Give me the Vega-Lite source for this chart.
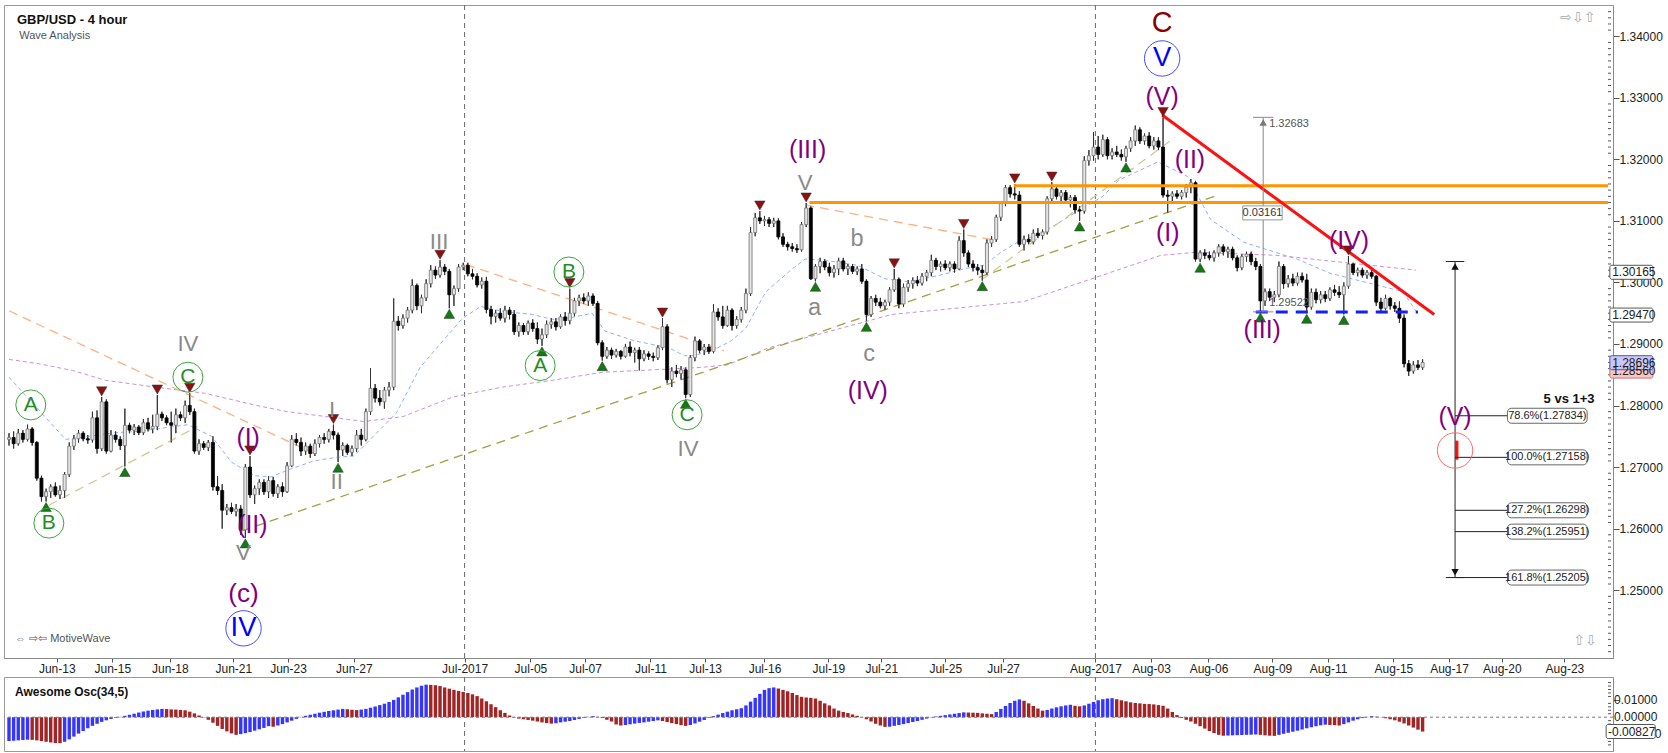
{
  "$schema": "https://vega.github.io/schema/vega-lite/v6.json",
  "background": "white",
  "padding": {"left": 3, "top": 4, "right": 0, "bottom": 0},
  "spacing": 1,
  "config": {
    "view": {"stroke": "#999999"},
    "axis": {"labelFont": "Liberation Sans", "labelFontSize": 12, "labelColor": "#222222", "domainColor": "#888888", "tickColor": "#555555", "grid": false},
    "text": {"font": "Liberation Sans"}
  },
  "datasets": {
    "k": [
      {"i":0,"o":1.2745,"h":1.2755,"l":1.2735,"c":1.2748,"a":-0.0138,"u":1},
      {"i":1,"o":1.2748,"h":1.2758,"l":1.2730,"c":1.2738,"a":-0.0136,"u":1},
      {"i":2,"o":1.2738,"h":1.2762,"l":1.2735,"c":1.2755,"a":-0.0134,"u":1},
      {"i":3,"o":1.2755,"h":1.2760,"l":1.2740,"c":1.2745,"a":-0.0132,"u":1},
      {"i":4,"o":1.2745,"h":1.2769,"l":1.2742,"c":1.2762,"a":-0.0130,"u":1},
      {"i":5,"o":1.2762,"h":1.2765,"l":1.2735,"c":1.2740,"a":-0.0131,"u":0},
      {"i":6,"o":1.2740,"h":1.2742,"l":1.2678,"c":1.2682,"a":-0.0134,"u":0},
      {"i":7,"o":1.2682,"h":1.2686,"l":1.2644,"c":1.2652,"a":-0.0138,"u":0},
      {"i":8,"o":1.2652,"h":1.2665,"l":1.2644,"c":1.2660,"a":-0.0142,"u":0},
      {"i":9,"o":1.2660,"h":1.2672,"l":1.2650,"c":1.2668,"a":-0.0146,"u":0},
      {"i":10,"o":1.2668,"h":1.2675,"l":1.2652,"c":1.2655,"a":-0.0149,"u":0},
      {"i":11,"o":1.2655,"h":1.2670,"l":1.2648,"c":1.2662,"a":-0.0150,"u":0},
      {"i":12,"o":1.2662,"h":1.2692,"l":1.2650,"c":1.2688,"a":-0.0142,"u":1},
      {"i":13,"o":1.2688,"h":1.2740,"l":1.2684,"c":1.2734,"a":-0.0128,"u":1},
      {"i":14,"o":1.2734,"h":1.2752,"l":1.2728,"c":1.2746,"a":-0.0112,"u":1},
      {"i":15,"o":1.2746,"h":1.2760,"l":1.2740,"c":1.2755,"a":-0.0095,"u":1},
      {"i":16,"o":1.2755,"h":1.2758,"l":1.2742,"c":1.2746,"a":-0.0080,"u":1},
      {"i":17,"o":1.2746,"h":1.2752,"l":1.2738,"c":1.2744,"a":-0.0064,"u":1},
      {"i":18,"o":1.2744,"h":1.2790,"l":1.2740,"c":1.2780,"a":-0.0050,"u":1},
      {"i":19,"o":1.2780,"h":1.2792,"l":1.2722,"c":1.2730,"a":-0.0038,"u":1},
      {"i":20,"o":1.2730,"h":1.2814,"l":1.2726,"c":1.2806,"a":-0.0027,"u":1},
      {"i":21,"o":1.2806,"h":1.2810,"l":1.2722,"c":1.2726,"a":-0.0018,"u":1},
      {"i":22,"o":1.2726,"h":1.2760,"l":1.2724,"c":1.2752,"a":-0.0010,"u":1},
      {"i":23,"o":1.2752,"h":1.2758,"l":1.2740,"c":1.2745,"a":-0.0004,"u":1},
      {"i":24,"o":1.2745,"h":1.2750,"l":1.2728,"c":1.2735,"a":0.0002,"u":1},
      {"i":25,"o":1.2735,"h":1.2795,"l":1.2701,"c":1.2768,"a":0.0008,"u":1},
      {"i":26,"o":1.2768,"h":1.2772,"l":1.2755,"c":1.2760,"a":0.0014,"u":1},
      {"i":27,"o":1.2760,"h":1.2770,"l":1.2752,"c":1.2765,"a":0.0020,"u":1},
      {"i":28,"o":1.2765,"h":1.2768,"l":1.2752,"c":1.2756,"a":0.0027,"u":1},
      {"i":29,"o":1.2756,"h":1.2778,"l":1.2752,"c":1.2772,"a":0.0033,"u":1},
      {"i":30,"o":1.2772,"h":1.2780,"l":1.2758,"c":1.2762,"a":0.0038,"u":1},
      {"i":31,"o":1.2762,"h":1.2785,"l":1.2755,"c":1.2766,"a":0.0042,"u":1},
      {"i":32,"o":1.2766,"h":1.2817,"l":1.2760,"c":1.2786,"a":0.0045,"u":1},
      {"i":33,"o":1.2786,"h":1.2790,"l":1.2775,"c":1.2780,"a":0.0048,"u":1},
      {"i":34,"o":1.2780,"h":1.2784,"l":1.2768,"c":1.2772,"a":0.0047,"u":0},
      {"i":35,"o":1.2772,"h":1.2790,"l":1.2740,"c":1.2768,"a":0.0045,"u":0},
      {"i":36,"o":1.2768,"h":1.2795,"l":1.2755,"c":1.2785,"a":0.0044,"u":0},
      {"i":37,"o":1.2785,"h":1.2790,"l":1.2775,"c":1.2780,"a":0.0042,"u":0},
      {"i":38,"o":1.2780,"h":1.2808,"l":1.2772,"c":1.2800,"a":0.0040,"u":0},
      {"i":39,"o":1.2800,"h":1.2820,"l":1.2785,"c":1.2790,"a":0.0032,"u":0},
      {"i":40,"o":1.2790,"h":1.2795,"l":1.2722,"c":1.2726,"a":0.0022,"u":0},
      {"i":41,"o":1.2726,"h":1.2745,"l":1.2720,"c":1.2738,"a":0.0010,"u":0},
      {"i":42,"o":1.2738,"h":1.2742,"l":1.2728,"c":1.2732,"a":-0.0002,"u":0},
      {"i":43,"o":1.2732,"h":1.2744,"l":1.2726,"c":1.2740,"a":-0.0015,"u":0},
      {"i":44,"o":1.2740,"h":1.2750,"l":1.2662,"c":1.2668,"a":-0.0032,"u":0},
      {"i":45,"o":1.2668,"h":1.2685,"l":1.2655,"c":1.2662,"a":-0.0050,"u":0},
      {"i":46,"o":1.2662,"h":1.2672,"l":1.2600,"c":1.2630,"a":-0.0068,"u":0},
      {"i":47,"o":1.2630,"h":1.2640,"l":1.2622,"c":1.2634,"a":-0.0082,"u":0},
      {"i":48,"o":1.2634,"h":1.2642,"l":1.2624,"c":1.2628,"a":-0.0094,"u":0},
      {"i":49,"o":1.2628,"h":1.2640,"l":1.2620,"c":1.2632,"a":-0.0102,"u":0},
      {"i":50,"o":1.2632,"h":1.2638,"l":1.2590,"c":1.2598,"a":-0.0098,"u":1},
      {"i":51,"o":1.2598,"h":1.2705,"l":1.2585,"c":1.2700,"a":-0.0092,"u":1},
      {"i":52,"o":1.2700,"h":1.2718,"l":1.2650,"c":1.2655,"a":-0.0086,"u":1},
      {"i":53,"o":1.2655,"h":1.2670,"l":1.2640,"c":1.2665,"a":-0.0078,"u":1},
      {"i":54,"o":1.2665,"h":1.2680,"l":1.2655,"c":1.2675,"a":-0.0070,"u":1},
      {"i":55,"o":1.2675,"h":1.2680,"l":1.2655,"c":1.2660,"a":-0.0062,"u":1},
      {"i":56,"o":1.2660,"h":1.2685,"l":1.2650,"c":1.2678,"a":-0.0052,"u":1},
      {"i":57,"o":1.2678,"h":1.2684,"l":1.2652,"c":1.2657,"a":-0.0055,"u":0},
      {"i":58,"o":1.2657,"h":1.2672,"l":1.2650,"c":1.2668,"a":-0.0048,"u":1},
      {"i":59,"o":1.2668,"h":1.2675,"l":1.2652,"c":1.2660,"a":-0.0040,"u":1},
      {"i":60,"o":1.2660,"h":1.2708,"l":1.2658,"c":1.2702,"a":-0.0030,"u":1},
      {"i":61,"o":1.2702,"h":1.2752,"l":1.2700,"c":1.2745,"a":-0.0020,"u":1},
      {"i":62,"o":1.2745,"h":1.2755,"l":1.2735,"c":1.2740,"a":-0.0010,"u":1},
      {"i":63,"o":1.2740,"h":1.2748,"l":1.2718,"c":1.2726,"a":0.0002,"u":1},
      {"i":64,"o":1.2726,"h":1.2740,"l":1.2720,"c":1.2734,"a":0.0008,"u":1},
      {"i":65,"o":1.2734,"h":1.2738,"l":1.2715,"c":1.2722,"a":0.0014,"u":1},
      {"i":66,"o":1.2722,"h":1.2745,"l":1.2718,"c":1.2738,"a":0.0020,"u":1},
      {"i":67,"o":1.2738,"h":1.2752,"l":1.2732,"c":1.2748,"a":0.0026,"u":1},
      {"i":68,"o":1.2748,"h":1.2755,"l":1.2738,"c":1.2745,"a":0.0031,"u":1},
      {"i":69,"o":1.2745,"h":1.2762,"l":1.2740,"c":1.2758,"a":0.0036,"u":1},
      {"i":70,"o":1.2758,"h":1.2769,"l":1.2745,"c":1.2752,"a":0.0040,"u":1},
      {"i":71,"o":1.2752,"h":1.2756,"l":1.2708,"c":1.2728,"a":0.0044,"u":1},
      {"i":72,"o":1.2728,"h":1.2740,"l":1.2718,"c":1.2735,"a":0.0048,"u":1},
      {"i":73,"o":1.2735,"h":1.2738,"l":1.2720,"c":1.2724,"a":0.0046,"u":0},
      {"i":74,"o":1.2724,"h":1.2735,"l":1.2718,"c":1.2730,"a":0.0043,"u":0},
      {"i":75,"o":1.2730,"h":1.2760,"l":1.2725,"c":1.2752,"a":0.0041,"u":0},
      {"i":76,"o":1.2752,"h":1.2762,"l":1.2735,"c":1.2745,"a":0.0044,"u":1},
      {"i":77,"o":1.2745,"h":1.2795,"l":1.2742,"c":1.2790,"a":0.0048,"u":1},
      {"i":78,"o":1.2790,"h":1.2861,"l":1.2785,"c":1.2828,"a":0.0055,"u":1},
      {"i":79,"o":1.2828,"h":1.2835,"l":1.2805,"c":1.2812,"a":0.0062,"u":1},
      {"i":80,"o":1.2812,"h":1.2825,"l":1.2800,"c":1.2806,"a":0.0070,"u":1},
      {"i":81,"o":1.2806,"h":1.2830,"l":1.2795,"c":1.2825,"a":0.0078,"u":1},
      {"i":82,"o":1.2825,"h":1.2838,"l":1.2815,"c":1.2830,"a":0.0088,"u":1},
      {"i":83,"o":1.2830,"h":1.2974,"l":1.2825,"c":1.2937,"a":0.0100,"u":1},
      {"i":84,"o":1.2937,"h":1.2945,"l":1.2922,"c":1.2930,"a":0.0115,"u":1},
      {"i":85,"o":1.2930,"h":1.2948,"l":1.2925,"c":1.2942,"a":0.0130,"u":1},
      {"i":86,"o":1.2942,"h":1.2960,"l":1.2935,"c":1.2955,"a":0.0145,"u":1},
      {"i":87,"o":1.2955,"h":1.3005,"l":1.2950,"c":1.2995,"a":0.0160,"u":1},
      {"i":88,"o":1.2995,"h":1.2998,"l":1.2955,"c":1.2962,"a":0.0172,"u":1},
      {"i":89,"o":1.2962,"h":1.2980,"l":1.2950,"c":1.2975,"a":0.0182,"u":1},
      {"i":90,"o":1.2975,"h":1.3005,"l":1.2970,"c":1.2998,"a":0.0188,"u":1},
      {"i":91,"o":1.2998,"h":1.3028,"l":1.2992,"c":1.3020,"a":0.0187,"u":0},
      {"i":92,"o":1.3020,"h":1.3026,"l":1.3006,"c":1.3012,"a":0.0185,"u":0},
      {"i":93,"o":1.3012,"h":1.3036,"l":1.3008,"c":1.3025,"a":0.0180,"u":0},
      {"i":94,"o":1.3025,"h":1.3030,"l":1.3012,"c":1.3018,"a":0.0172,"u":0},
      {"i":95,"o":1.3018,"h":1.3022,"l":1.2958,"c":1.2980,"a":0.0165,"u":0},
      {"i":96,"o":1.2980,"h":1.2995,"l":1.2962,"c":1.2990,"a":0.0158,"u":0},
      {"i":97,"o":1.2990,"h":1.3030,"l":1.2985,"c":1.3025,"a":0.0152,"u":0},
      {"i":98,"o":1.3025,"h":1.3032,"l":1.3020,"c":1.3028,"a":0.0146,"u":0},
      {"i":99,"o":1.3028,"h":1.3032,"l":1.3010,"c":1.3014,"a":0.0140,"u":0},
      {"i":100,"o":1.3014,"h":1.3022,"l":1.3005,"c":1.3010,"a":0.0132,"u":0},
      {"i":101,"o":1.3010,"h":1.3015,"l":1.2992,"c":1.2996,"a":0.0122,"u":0},
      {"i":102,"o":1.2996,"h":1.3008,"l":1.2990,"c":1.3002,"a":0.0108,"u":0},
      {"i":103,"o":1.3002,"h":1.3009,"l":1.2950,"c":1.2956,"a":0.0092,"u":0},
      {"i":104,"o":1.2956,"h":1.2962,"l":1.2932,"c":1.2945,"a":0.0075,"u":0},
      {"i":105,"o":1.2945,"h":1.2955,"l":1.2935,"c":1.2950,"a":0.0058,"u":0},
      {"i":106,"o":1.2950,"h":1.2958,"l":1.2938,"c":1.2942,"a":0.0040,"u":0},
      {"i":107,"o":1.2942,"h":1.2962,"l":1.2935,"c":1.2955,"a":0.0025,"u":0},
      {"i":108,"o":1.2955,"h":1.2960,"l":1.2940,"c":1.2948,"a":0.0010,"u":0},
      {"i":109,"o":1.2948,"h":1.2955,"l":1.2915,"c":1.2920,"a":-0.0002,"u":0},
      {"i":110,"o":1.2920,"h":1.2935,"l":1.2912,"c":1.2930,"a":-0.0008,"u":0},
      {"i":111,"o":1.2930,"h":1.2934,"l":1.2915,"c":1.2920,"a":-0.0012,"u":0},
      {"i":112,"o":1.2920,"h":1.2938,"l":1.2915,"c":1.2934,"a":-0.0016,"u":0},
      {"i":113,"o":1.2934,"h":1.2940,"l":1.2920,"c":1.2925,"a":-0.0020,"u":0},
      {"i":114,"o":1.2925,"h":1.2935,"l":1.2900,"c":1.2908,"a":-0.0025,"u":0},
      {"i":115,"o":1.2908,"h":1.2925,"l":1.2897,"c":1.2915,"a":-0.0030,"u":0},
      {"i":116,"o":1.2915,"h":1.2938,"l":1.2910,"c":1.2932,"a":-0.0034,"u":0},
      {"i":117,"o":1.2932,"h":1.2942,"l":1.2925,"c":1.2936,"a":-0.0037,"u":0},
      {"i":118,"o":1.2936,"h":1.2942,"l":1.2922,"c":1.2928,"a":-0.0035,"u":1},
      {"i":119,"o":1.2928,"h":1.2948,"l":1.2925,"c":1.2944,"a":-0.0030,"u":1},
      {"i":120,"o":1.2944,"h":1.2952,"l":1.2930,"c":1.2938,"a":-0.0026,"u":1},
      {"i":121,"o":1.2938,"h":1.2990,"l":1.2932,"c":1.2950,"a":-0.0022,"u":1},
      {"i":122,"o":1.2950,"h":1.2975,"l":1.2945,"c":1.2970,"a":-0.0016,"u":1},
      {"i":123,"o":1.2970,"h":1.2980,"l":1.2962,"c":1.2975,"a":-0.0010,"u":1},
      {"i":124,"o":1.2975,"h":1.2982,"l":1.2965,"c":1.2970,"a":-0.0004,"u":1},
      {"i":125,"o":1.2970,"h":1.2984,"l":1.2962,"c":1.2978,"a":0.0002,"u":1},
      {"i":126,"o":1.2978,"h":1.2982,"l":1.2962,"c":1.2966,"a":0.0006,"u":1},
      {"i":127,"o":1.2966,"h":1.2970,"l":1.2898,"c":1.2902,"a":0.0002,"u":0},
      {"i":128,"o":1.2902,"h":1.2906,"l":1.2873,"c":1.2880,"a":-0.0005,"u":0},
      {"i":129,"o":1.2880,"h":1.2895,"l":1.2876,"c":1.2890,"a":-0.0015,"u":0},
      {"i":130,"o":1.2890,"h":1.2894,"l":1.2876,"c":1.2882,"a":-0.0025,"u":0},
      {"i":131,"o":1.2882,"h":1.2892,"l":1.2878,"c":1.2888,"a":-0.0042,"u":0},
      {"i":132,"o":1.2888,"h":1.2890,"l":1.2875,"c":1.2880,"a":-0.0048,"u":0},
      {"i":133,"o":1.2880,"h":1.2900,"l":1.2878,"c":1.2895,"a":-0.0045,"u":1},
      {"i":134,"o":1.2895,"h":1.2904,"l":1.2880,"c":1.2886,"a":-0.0041,"u":1},
      {"i":135,"o":1.2886,"h":1.2894,"l":1.2870,"c":1.2890,"a":-0.0037,"u":1},
      {"i":136,"o":1.2890,"h":1.2895,"l":1.2857,"c":1.2876,"a":-0.0033,"u":1},
      {"i":137,"o":1.2876,"h":1.2890,"l":1.2872,"c":1.2884,"a":-0.0030,"u":1},
      {"i":138,"o":1.2884,"h":1.2888,"l":1.2874,"c":1.2880,"a":-0.0026,"u":1},
      {"i":139,"o":1.2880,"h":1.2886,"l":1.2872,"c":1.2878,"a":-0.0022,"u":1},
      {"i":140,"o":1.2878,"h":1.2898,"l":1.2874,"c":1.2894,"a":-0.0018,"u":1},
      {"i":141,"o":1.2894,"h":1.2942,"l":1.2890,"c":1.2928,"a":-0.0022,"u":0},
      {"i":142,"o":1.2928,"h":1.2932,"l":1.2836,"c":1.2842,"a":-0.0028,"u":0},
      {"i":143,"o":1.2842,"h":1.2862,"l":1.2830,"c":1.2856,"a":-0.0034,"u":0},
      {"i":144,"o":1.2856,"h":1.2866,"l":1.2846,"c":1.2852,"a":-0.0040,"u":0},
      {"i":145,"o":1.2852,"h":1.2864,"l":1.2842,"c":1.2858,"a":-0.0046,"u":0},
      {"i":146,"o":1.2858,"h":1.2862,"l":1.2812,"c":1.2818,"a":-0.0050,"u":0},
      {"i":147,"o":1.2818,"h":1.2882,"l":1.2814,"c":1.2878,"a":-0.0045,"u":1},
      {"i":148,"o":1.2878,"h":1.2912,"l":1.2872,"c":1.2905,"a":-0.0036,"u":1},
      {"i":149,"o":1.2905,"h":1.2908,"l":1.2885,"c":1.2890,"a":-0.0026,"u":1},
      {"i":150,"o":1.2890,"h":1.2900,"l":1.2882,"c":1.2895,"a":-0.0016,"u":1},
      {"i":151,"o":1.2895,"h":1.2900,"l":1.2884,"c":1.2888,"a":-0.0004,"u":1},
      {"i":152,"o":1.2888,"h":1.2965,"l":1.2885,"c":1.2952,"a":0.0006,"u":1},
      {"i":153,"o":1.2952,"h":1.2958,"l":1.2938,"c":1.2944,"a":0.0015,"u":1},
      {"i":154,"o":1.2944,"h":1.2962,"l":1.2925,"c":1.2930,"a":0.0024,"u":1},
      {"i":155,"o":1.2930,"h":1.2962,"l":1.2928,"c":1.2955,"a":0.0032,"u":1},
      {"i":156,"o":1.2955,"h":1.2958,"l":1.2922,"c":1.2930,"a":0.0040,"u":1},
      {"i":157,"o":1.2930,"h":1.2945,"l":1.2925,"c":1.2940,"a":0.0046,"u":1},
      {"i":158,"o":1.2940,"h":1.2960,"l":1.2935,"c":1.2955,"a":0.0052,"u":1},
      {"i":159,"o":1.2955,"h":1.2990,"l":1.2950,"c":1.2982,"a":0.0068,"u":1},
      {"i":160,"o":1.2982,"h":1.3090,"l":1.2978,"c":1.3081,"a":0.0090,"u":1},
      {"i":161,"o":1.3081,"h":1.3113,"l":1.3075,"c":1.3105,"a":0.0112,"u":1},
      {"i":162,"o":1.3105,"h":1.3116,"l":1.3095,"c":1.3100,"a":0.0135,"u":1},
      {"i":163,"o":1.3100,"h":1.3108,"l":1.3092,"c":1.3102,"a":0.0158,"u":1},
      {"i":164,"o":1.3102,"h":1.3106,"l":1.3090,"c":1.3096,"a":0.0168,"u":1},
      {"i":165,"o":1.3096,"h":1.3105,"l":1.3090,"c":1.3100,"a":0.0172,"u":1},
      {"i":166,"o":1.3100,"h":1.3104,"l":1.3070,"c":1.3074,"a":0.0166,"u":0},
      {"i":167,"o":1.3074,"h":1.3080,"l":1.3058,"c":1.3062,"a":0.0158,"u":0},
      {"i":168,"o":1.3062,"h":1.3066,"l":1.3052,"c":1.3058,"a":0.0150,"u":0},
      {"i":169,"o":1.3058,"h":1.3064,"l":1.3050,"c":1.3055,"a":0.0140,"u":0},
      {"i":170,"o":1.3055,"h":1.3062,"l":1.3048,"c":1.3053,"a":0.0128,"u":0},
      {"i":171,"o":1.3053,"h":1.3098,"l":1.3050,"c":1.3094,"a":0.0118,"u":0},
      {"i":172,"o":1.3094,"h":1.3129,"l":1.3090,"c":1.3121,"a":0.0114,"u":0},
      {"i":173,"o":1.3121,"h":1.3124,"l":1.3004,"c":1.3006,"a":0.0112,"u":0},
      {"i":174,"o":1.3006,"h":1.3030,"l":1.3002,"c":1.3026,"a":0.0108,"u":0},
      {"i":175,"o":1.3026,"h":1.3040,"l":1.3015,"c":1.3034,"a":0.0095,"u":0},
      {"i":176,"o":1.3034,"h":1.3038,"l":1.3020,"c":1.3025,"a":0.0080,"u":0},
      {"i":177,"o":1.3025,"h":1.3032,"l":1.3010,"c":1.3016,"a":0.0068,"u":0},
      {"i":178,"o":1.3016,"h":1.3028,"l":1.3008,"c":1.3022,"a":0.0050,"u":0},
      {"i":179,"o":1.3022,"h":1.3040,"l":1.3012,"c":1.3035,"a":0.0038,"u":0},
      {"i":180,"o":1.3035,"h":1.3040,"l":1.3018,"c":1.3022,"a":0.0030,"u":0},
      {"i":181,"o":1.3022,"h":1.3030,"l":1.3012,"c":1.3026,"a":0.0024,"u":0},
      {"i":182,"o":1.3026,"h":1.3030,"l":1.3014,"c":1.3018,"a":0.0016,"u":0},
      {"i":183,"o":1.3018,"h":1.3026,"l":1.3012,"c":1.3022,"a":0.0008,"u":0},
      {"i":184,"o":1.3022,"h":1.3030,"l":1.2998,"c":1.3002,"a":-0.0002,"u":0},
      {"i":185,"o":1.3002,"h":1.3005,"l":1.2937,"c":1.2948,"a":-0.0012,"u":0},
      {"i":186,"o":1.2948,"h":1.2978,"l":1.2944,"c":1.2974,"a":-0.0025,"u":0},
      {"i":187,"o":1.2974,"h":1.2980,"l":1.2962,"c":1.2968,"a":-0.0038,"u":0},
      {"i":188,"o":1.2968,"h":1.2975,"l":1.2958,"c":1.2962,"a":-0.0048,"u":0},
      {"i":189,"o":1.2962,"h":1.2972,"l":1.2955,"c":1.2968,"a":-0.0056,"u":0},
      {"i":190,"o":1.2968,"h":1.2992,"l":1.2962,"c":1.2988,"a":-0.0055,"u":1},
      {"i":191,"o":1.2988,"h":1.3022,"l":1.2985,"c":1.3005,"a":-0.0050,"u":1},
      {"i":192,"o":1.3005,"h":1.3008,"l":1.2958,"c":1.2965,"a":-0.0045,"u":1},
      {"i":193,"o":1.2965,"h":1.2998,"l":1.2960,"c":1.2992,"a":-0.0040,"u":1},
      {"i":194,"o":1.2992,"h":1.3004,"l":1.2985,"c":1.2998,"a":-0.0034,"u":1},
      {"i":195,"o":1.2998,"h":1.3008,"l":1.2990,"c":1.3003,"a":-0.0028,"u":1},
      {"i":196,"o":1.3003,"h":1.3010,"l":1.2994,"c":1.2999,"a":-0.0022,"u":1},
      {"i":197,"o":1.2999,"h":1.3015,"l":1.2995,"c":1.3010,"a":-0.0015,"u":1},
      {"i":198,"o":1.3010,"h":1.3020,"l":1.3002,"c":1.3016,"a":-0.0008,"u":1},
      {"i":199,"o":1.3016,"h":1.3045,"l":1.3010,"c":1.3036,"a":-0.0002,"u":1},
      {"i":200,"o":1.3036,"h":1.3040,"l":1.3020,"c":1.3026,"a":0.0004,"u":1},
      {"i":201,"o":1.3026,"h":1.3034,"l":1.3018,"c":1.3030,"a":0.0008,"u":1},
      {"i":202,"o":1.3030,"h":1.3036,"l":1.3020,"c":1.3024,"a":0.0012,"u":1},
      {"i":203,"o":1.3024,"h":1.3034,"l":1.3018,"c":1.3030,"a":0.0016,"u":1},
      {"i":204,"o":1.3030,"h":1.3034,"l":1.3016,"c":1.3022,"a":0.0020,"u":1},
      {"i":205,"o":1.3022,"h":1.3075,"l":1.3020,"c":1.3068,"a":0.0024,"u":1},
      {"i":206,"o":1.3068,"h":1.3086,"l":1.3042,"c":1.3048,"a":0.0028,"u":1},
      {"i":207,"o":1.3048,"h":1.3052,"l":1.3025,"c":1.3030,"a":0.0027,"u":0},
      {"i":208,"o":1.3030,"h":1.3036,"l":1.3018,"c":1.3024,"a":0.0026,"u":0},
      {"i":209,"o":1.3024,"h":1.3030,"l":1.3012,"c":1.3020,"a":0.0025,"u":0},
      {"i":210,"o":1.3020,"h":1.3028,"l":1.3003,"c":1.3016,"a":0.0022,"u":0},
      {"i":211,"o":1.3016,"h":1.3070,"l":1.3012,"c":1.3064,"a":0.0020,"u":0},
      {"i":212,"o":1.3064,"h":1.3075,"l":1.3058,"c":1.3070,"a":0.0018,"u":0},
      {"i":213,"o":1.3070,"h":1.3110,"l":1.3066,"c":1.3106,"a":0.0030,"u":1},
      {"i":214,"o":1.3106,"h":1.3132,"l":1.3100,"c":1.3128,"a":0.0048,"u":1},
      {"i":215,"o":1.3128,"h":1.3158,"l":1.3124,"c":1.3154,"a":0.0065,"u":1},
      {"i":216,"o":1.3154,"h":1.3158,"l":1.3138,"c":1.3144,"a":0.0082,"u":1},
      {"i":217,"o":1.3144,"h":1.3160,"l":1.3135,"c":1.3142,"a":0.0095,"u":1},
      {"i":218,"o":1.3142,"h":1.3148,"l":1.3058,"c":1.3062,"a":0.0103,"u":1},
      {"i":219,"o":1.3062,"h":1.3076,"l":1.3052,"c":1.3070,"a":0.0095,"u":0},
      {"i":220,"o":1.3070,"h":1.3078,"l":1.3062,"c":1.3066,"a":0.0080,"u":0},
      {"i":221,"o":1.3066,"h":1.3086,"l":1.3062,"c":1.3080,"a":0.0065,"u":0},
      {"i":222,"o":1.3080,"h":1.3088,"l":1.3072,"c":1.3076,"a":0.0050,"u":0},
      {"i":223,"o":1.3076,"h":1.3086,"l":1.3070,"c":1.3082,"a":0.0038,"u":0},
      {"i":224,"o":1.3082,"h":1.3140,"l":1.3078,"c":1.3136,"a":0.0042,"u":1},
      {"i":225,"o":1.3136,"h":1.3163,"l":1.3130,"c":1.3152,"a":0.0050,"u":1},
      {"i":226,"o":1.3152,"h":1.3156,"l":1.3135,"c":1.3140,"a":0.0057,"u":1},
      {"i":227,"o":1.3140,"h":1.3150,"l":1.3132,"c":1.3146,"a":0.0063,"u":1},
      {"i":228,"o":1.3146,"h":1.3150,"l":1.3128,"c":1.3134,"a":0.0068,"u":1},
      {"i":229,"o":1.3134,"h":1.3142,"l":1.3122,"c":1.3138,"a":0.0072,"u":1},
      {"i":230,"o":1.3138,"h":1.3142,"l":1.3112,"c":1.3118,"a":0.0066,"u":0},
      {"i":231,"o":1.3118,"h":1.3124,"l":1.3100,"c":1.3116,"a":0.0063,"u":0},
      {"i":232,"o":1.3116,"h":1.3205,"l":1.3112,"c":1.3198,"a":0.0068,"u":1},
      {"i":233,"o":1.3198,"h":1.3215,"l":1.3190,"c":1.3206,"a":0.0078,"u":1},
      {"i":234,"o":1.3206,"h":1.3244,"l":1.3198,"c":1.3220,"a":0.0088,"u":1},
      {"i":235,"o":1.3220,"h":1.3238,"l":1.3200,"c":1.3208,"a":0.0098,"u":1},
      {"i":236,"o":1.3208,"h":1.3240,"l":1.3204,"c":1.3232,"a":0.0104,"u":1},
      {"i":237,"o":1.3232,"h":1.3236,"l":1.3200,"c":1.3206,"a":0.0108,"u":1},
      {"i":238,"o":1.3206,"h":1.3218,"l":1.3200,"c":1.3212,"a":0.0110,"u":1},
      {"i":239,"o":1.3212,"h":1.3222,"l":1.3204,"c":1.3208,"a":0.0104,"u":0},
      {"i":240,"o":1.3208,"h":1.3216,"l":1.3198,"c":1.3204,"a":0.0098,"u":0},
      {"i":241,"o":1.3204,"h":1.3222,"l":1.3196,"c":1.3218,"a":0.0092,"u":0},
      {"i":242,"o":1.3218,"h":1.3236,"l":1.3212,"c":1.3230,"a":0.0086,"u":0},
      {"i":243,"o":1.3230,"h":1.3255,"l":1.3222,"c":1.3248,"a":0.0082,"u":0},
      {"i":244,"o":1.3248,"h":1.3252,"l":1.3225,"c":1.3230,"a":0.0080,"u":0},
      {"i":245,"o":1.3230,"h":1.3242,"l":1.3224,"c":1.3238,"a":0.0077,"u":0},
      {"i":246,"o":1.3238,"h":1.3244,"l":1.3218,"c":1.3222,"a":0.0076,"u":0},
      {"i":247,"o":1.3222,"h":1.3236,"l":1.3216,"c":1.3230,"a":0.0074,"u":0},
      {"i":248,"o":1.3230,"h":1.3236,"l":1.3215,"c":1.3220,"a":0.0070,"u":0},
      {"i":249,"o":1.3220,"h":1.3268,"l":1.3138,"c":1.3142,"a":0.0066,"u":0},
      {"i":250,"o":1.3142,"h":1.3150,"l":1.3113,"c":1.3140,"a":0.0050,"u":0},
      {"i":251,"o":1.3140,"h":1.3148,"l":1.3132,"c":1.3144,"a":0.0030,"u":0},
      {"i":252,"o":1.3144,"h":1.3150,"l":1.3136,"c":1.3140,"a":0.0012,"u":0},
      {"i":253,"o":1.3140,"h":1.3150,"l":1.3135,"c":1.3146,"a":-0.0005,"u":0},
      {"i":254,"o":1.3146,"h":1.3160,"l":1.3138,"c":1.3155,"a":-0.0015,"u":0},
      {"i":255,"o":1.3155,"h":1.3168,"l":1.3145,"c":1.3162,"a":-0.0025,"u":0},
      {"i":256,"o":1.3162,"h":1.3165,"l":1.3034,"c":1.3038,"a":-0.0038,"u":0},
      {"i":257,"o":1.3038,"h":1.3052,"l":1.3033,"c":1.3048,"a":-0.0052,"u":0},
      {"i":258,"o":1.3048,"h":1.3054,"l":1.3038,"c":1.3044,"a":-0.0066,"u":0},
      {"i":259,"o":1.3044,"h":1.3050,"l":1.3036,"c":1.3040,"a":-0.0080,"u":0},
      {"i":260,"o":1.3040,"h":1.3052,"l":1.3034,"c":1.3048,"a":-0.0092,"u":0},
      {"i":261,"o":1.3048,"h":1.3062,"l":1.3042,"c":1.3058,"a":-0.0102,"u":0},
      {"i":262,"o":1.3058,"h":1.3062,"l":1.3044,"c":1.3050,"a":-0.0107,"u":0},
      {"i":263,"o":1.3050,"h":1.3058,"l":1.3040,"c":1.3054,"a":-0.0106,"u":1},
      {"i":264,"o":1.3054,"h":1.3058,"l":1.3036,"c":1.3040,"a":-0.0105,"u":1},
      {"i":265,"o":1.3040,"h":1.3044,"l":1.3018,"c":1.3024,"a":-0.0104,"u":1},
      {"i":266,"o":1.3024,"h":1.3046,"l":1.3020,"c":1.3042,"a":-0.0103,"u":1},
      {"i":267,"o":1.3042,"h":1.3050,"l":1.3034,"c":1.3046,"a":-0.0102,"u":1},
      {"i":268,"o":1.3046,"h":1.3050,"l":1.3028,"c":1.3034,"a":-0.0101,"u":1},
      {"i":269,"o":1.3034,"h":1.3040,"l":1.3020,"c":1.3026,"a":-0.0100,"u":1},
      {"i":270,"o":1.3026,"h":1.3030,"l":1.2952,"c":1.2970,"a":-0.0102,"u":0},
      {"i":271,"o":1.2970,"h":1.2990,"l":1.2962,"c":1.2985,"a":-0.0105,"u":0},
      {"i":272,"o":1.2985,"h":1.2990,"l":1.2970,"c":1.2976,"a":-0.0107,"u":0},
      {"i":273,"o":1.2976,"h":1.2986,"l":1.2968,"c":1.2980,"a":-0.0108,"u":0},
      {"i":274,"o":1.2980,"h":1.3034,"l":1.2976,"c":1.3026,"a":-0.0102,"u":1},
      {"i":275,"o":1.3026,"h":1.3030,"l":1.2990,"c":1.2998,"a":-0.0096,"u":1},
      {"i":276,"o":1.2998,"h":1.3012,"l":1.2992,"c":1.3006,"a":-0.0090,"u":1},
      {"i":277,"o":1.3006,"h":1.3014,"l":1.2994,"c":1.2999,"a":-0.0084,"u":1},
      {"i":278,"o":1.2999,"h":1.3016,"l":1.2995,"c":1.3010,"a":-0.0078,"u":1},
      {"i":279,"o":1.3010,"h":1.3016,"l":1.3000,"c":1.3004,"a":-0.0071,"u":1},
      {"i":280,"o":1.3004,"h":1.3014,"l":1.2950,"c":1.2960,"a":-0.0064,"u":1},
      {"i":281,"o":1.2960,"h":1.2990,"l":1.2956,"c":1.2984,"a":-0.0058,"u":1},
      {"i":282,"o":1.2984,"h":1.2990,"l":1.2966,"c":1.2972,"a":-0.0052,"u":1},
      {"i":283,"o":1.2972,"h":1.2986,"l":1.2966,"c":1.2980,"a":-0.0047,"u":1},
      {"i":284,"o":1.2980,"h":1.2986,"l":1.2968,"c":1.2974,"a":-0.0043,"u":1},
      {"i":285,"o":1.2974,"h":1.2992,"l":1.2970,"c":1.2988,"a":-0.0045,"u":0},
      {"i":286,"o":1.2988,"h":1.2996,"l":1.2978,"c":1.2984,"a":-0.0046,"u":0},
      {"i":287,"o":1.2984,"h":1.2994,"l":1.2975,"c":1.2980,"a":-0.0048,"u":0},
      {"i":288,"o":1.2980,"h":1.3000,"l":1.2948,"c":1.2994,"a":-0.0040,"u":1},
      {"i":289,"o":1.2994,"h":1.3043,"l":1.2990,"c":1.3030,"a":-0.0030,"u":1},
      {"i":290,"o":1.3030,"h":1.3032,"l":1.3012,"c":1.3016,"a":-0.0020,"u":1},
      {"i":291,"o":1.3016,"h":1.3024,"l":1.3010,"c":1.3020,"a":-0.0012,"u":1},
      {"i":292,"o":1.3020,"h":1.3024,"l":1.3008,"c":1.3012,"a":-0.0005,"u":1},
      {"i":293,"o":1.3012,"h":1.3020,"l":1.3006,"c":1.3016,"a":0.0002,"u":1},
      {"i":294,"o":1.3016,"h":1.3024,"l":1.3006,"c":1.3010,"a":0.0006,"u":1},
      {"i":295,"o":1.3010,"h":1.3012,"l":1.2962,"c":1.2968,"a":0.0003,"u":0},
      {"i":296,"o":1.2968,"h":1.2975,"l":1.2950,"c":1.2958,"a":-0.0001,"u":0},
      {"i":297,"o":1.2958,"h":1.2980,"l":1.2955,"c":1.2974,"a":-0.0006,"u":0},
      {"i":298,"o":1.2974,"h":1.2976,"l":1.2956,"c":1.2962,"a":-0.0012,"u":0},
      {"i":299,"o":1.2962,"h":1.2968,"l":1.2952,"c":1.2958,"a":-0.0018,"u":0},
      {"i":300,"o":1.2958,"h":1.2969,"l":1.2934,"c":1.2942,"a":-0.0026,"u":0},
      {"i":301,"o":1.2942,"h":1.2948,"l":1.2862,"c":1.2868,"a":-0.0036,"u":0},
      {"i":302,"o":1.2868,"h":1.2874,"l":1.2848,"c":1.2856,"a":-0.0048,"u":0},
      {"i":303,"o":1.2856,"h":1.2872,"l":1.2852,"c":1.2866,"a":-0.0060,"u":0},
      {"i":304,"o":1.2866,"h":1.2874,"l":1.2858,"c":1.2862,"a":-0.0072,"u":0},
      {"i":305,"o":1.2862,"h":1.2875,"l":1.2858,"c":1.2870,"a":-0.0083,"u":0}
    ],
    "ln": [
      {"g":"ma1","i":0,"p":1.2846},{"g":"ma1","i":6.4,"p":1.2793},{"g":"ma1","i":12.2,"p":1.2745},{"g":"ma1","i":17.2,"p":1.2750},
      {"g":"ma1","i":23,"p":1.2756},{"g":"ma1","i":28,"p":1.2758},{"g":"ma1","i":38.6,"p":1.2769},{"g":"ma1","i":43.7,"p":1.2750},
      {"g":"ma1","i":48,"p":1.2708},{"g":"ma1","i":53,"p":1.2686},{"g":"ma1","i":56.5,"p":1.2684},{"g":"ma1","i":60.8,"p":1.2697},
      {"g":"ma1","i":65.8,"p":1.2710},{"g":"ma1","i":70.7,"p":1.2716},{"g":"ma1","i":74.4,"p":1.2718},{"g":"ma1","i":83.6,"p":1.2788},
      {"g":"ma1","i":88.7,"p":1.2862},{"g":"ma1","i":93.6,"p":1.2905},{"g":"ma1","i":97.9,"p":1.2942},{"g":"ma1","i":101.8,"p":1.2961},
      {"g":"ma1","i":106.5,"p":1.2953},{"g":"ma1","i":112.9,"p":1.2948},{"g":"ma1","i":117.2,"p":1.2940},{"g":"ma1","i":120.8,"p":1.2942},
      {"g":"ma1","i":125.8,"p":1.2950},{"g":"ma1","i":128.6,"p":1.2921},{"g":"ma1","i":135,"p":1.2905},{"g":"ma1","i":142.3,"p":1.2894},
      {"g":"ma1","i":145.7,"p":1.2881},{"g":"ma1","i":147.9,"p":1.2881},{"g":"ma1","i":153,"p":1.2894},{"g":"ma1","i":155.8,"p":1.2905},
      {"g":"ma1","i":159,"p":1.2926},{"g":"ma1","i":163.3,"p":1.2985},{"g":"ma1","i":169,"p":1.3022},{"g":"ma1","i":171.8,"p":1.3038},
      {"g":"ma1","i":176,"p":1.3036},{"g":"ma1","i":183,"p":1.3028},{"g":"ma1","i":189,"p":1.3006},{"g":"ma1","i":194,"p":1.3001},
      {"g":"ma1","i":201,"p":1.3012},{"g":"ma1","i":206,"p":1.3022},{"g":"ma1","i":210.4,"p":1.3028},{"g":"ma1","i":214,"p":1.3049},
      {"g":"ma1","i":217.5,"p":1.3065},{"g":"ma1","i":223,"p":1.3081},{"g":"ma1","i":230,"p":1.3113},{"g":"ma1","i":236,"p":1.3140},
      {"g":"ma1","i":239.4,"p":1.3166},{"g":"ma1","i":247.9,"p":1.3196},{"g":"ma1","i":254.3,"p":1.3172},{"g":"ma1","i":259.3,"p":1.3102},
      {"g":"ma1","i":266.5,"p":1.3065},{"g":"ma1","i":277.9,"p":1.3038},{"g":"ma1","i":285,"p":1.3015},{"g":"ma1","i":295,"p":1.2996},
      {"g":"ma1","i":300.8,"p":1.2985},{"g":"ma1","i":303.6,"p":1.2953},
      {"g":"ma2","i":0,"p":1.2875},{"g":"ma2","i":6.4,"p":1.2868},{"g":"ma2","i":13.7,"p":1.2857},{"g":"ma2","i":20.8,"p":1.2841},
      {"g":"ma2","i":31.5,"p":1.2830},{"g":"ma2","i":42.2,"p":1.2820},{"g":"ma2","i":52.9,"p":1.2801},{"g":"ma2","i":60,"p":1.2790},
      {"g":"ma2","i":70.7,"p":1.2780},{"g":"ma2","i":76.5,"p":1.2774},{"g":"ma2","i":85,"p":1.2782},{"g":"ma2","i":95.8,"p":1.2814},
      {"g":"ma2","i":106.5,"p":1.2830},{"g":"ma2","i":117.2,"p":1.2841},{"g":"ma2","i":128,"p":1.2854},{"g":"ma2","i":149.4,"p":1.2862},
      {"g":"ma2","i":155,"p":1.2866},{"g":"ma2","i":164,"p":1.2894},{"g":"ma2","i":190.5,"p":1.2948},{"g":"ma2","i":219,"p":1.2969},
      {"g":"ma2","i":236,"p":1.3012},{"g":"ma2","i":248.5,"p":1.3044},{"g":"ma2","i":256,"p":1.3049},{"g":"ma2","i":273.6,"p":1.3044},
      {"g":"ma2","i":303.6,"p":1.3020}
    ],
    "sg": [
      {"g":"od","i":0,"p":1.2954,"i2":67,"p2":1.2718},
      {"g":"od","i":98.6,"p":1.3029,"i2":154.3,"p2":1.2889},
      {"g":"od","i":171.8,"p":1.3126,"i2":213.2,"p2":1.3068},
      {"g":"ol","i":50.1,"p":1.2596,"i2":260.1,"p2":1.3140},
      {"g":"oll","i":8.6,"p":1.2638,"i2":40.7,"p2":1.2766},
      {"g":"oll","i":209.8,"p":1.3004,"i2":251.6,"p2":1.3236},
      {"g":"os","i":172.7,"p":1.3130,"i2":345,"p2":1.3130},
      {"g":"os","i":216.8,"p":1.3157,"i2":345,"p2":1.3157},
      {"g":"rt","i":248.8,"p":1.3272,"i2":307.5,"p2":1.2948},
      {"g":"rb","i":312.4,"p":1.2743,"i2":312.4,"p2":1.2712},
      {"g":"bd","i":269,"p":1.2952,"i2":304,"p2":1.2952},
      {"g":"mg","i":270.6,"p":1.32683,"i2":270.6,"p2":1.29522},
      {"g":"mg","i":268.4,"p":1.32683,"i2":272.8,"p2":1.32683},
      {"g":"mg","i":268.4,"p":1.29522,"i2":272.8,"p2":1.29522},
      {"g":"mb","i":312,"p":1.3034,"i2":312,"p2":1.2521},
      {"g":"mb","i":310,"p":1.3034,"i2":314,"p2":1.3034},
      {"g":"mb","i":310,"p":1.25205,"i2":314,"p2":1.25205},
      {"g":"mb","i":312,"p":1.27834,"i2":324.6,"p2":1.27834},
      {"g":"mb","i":312,"p":1.27158,"i2":323.3,"p2":1.27158},
      {"g":"mb","i":312,"p":1.26298,"i2":323.3,"p2":1.26298},
      {"g":"mb","i":312,"p":1.25951,"i2":323.3,"p2":1.25951},
      {"g":"mb","i":312,"p":1.25205,"i2":323.3,"p2":1.25205}
    ],
    "mt": [
      {"v":1.240},{"v":1.241},{"v":1.242},{"v":1.243},{"v":1.244},{"v":1.245},{"v":1.246},{"v":1.247},{"v":1.248},{"v":1.249},
      {"v":1.251},{"v":1.252},{"v":1.253},{"v":1.254},{"v":1.255},{"v":1.256},{"v":1.257},{"v":1.258},{"v":1.259},
      {"v":1.261},{"v":1.262},{"v":1.263},{"v":1.264},{"v":1.265},{"v":1.266},{"v":1.267},{"v":1.268},{"v":1.269},
      {"v":1.271},{"v":1.272},{"v":1.273},{"v":1.274},{"v":1.275},{"v":1.276},{"v":1.277},{"v":1.278},{"v":1.279},
      {"v":1.281},{"v":1.282},{"v":1.283},{"v":1.284},{"v":1.285},{"v":1.286},{"v":1.287},{"v":1.288},{"v":1.289},
      {"v":1.291},{"v":1.292},{"v":1.293},{"v":1.294},{"v":1.295},{"v":1.296},{"v":1.297},{"v":1.298},{"v":1.299},
      {"v":1.301},{"v":1.302},{"v":1.303},{"v":1.304},{"v":1.305},{"v":1.306},{"v":1.307},{"v":1.308},{"v":1.309},
      {"v":1.311},{"v":1.312},{"v":1.313},{"v":1.314},{"v":1.315},{"v":1.316},{"v":1.317},{"v":1.318},{"v":1.319},
      {"v":1.321},{"v":1.322},{"v":1.323},{"v":1.324},{"v":1.325},{"v":1.326},{"v":1.327},{"v":1.328},{"v":1.329},
      {"v":1.331},{"v":1.332},{"v":1.333},{"v":1.334},{"v":1.335},{"v":1.336},{"v":1.337},{"v":1.338},{"v":1.339},
      {"v":1.341},{"v":1.342},{"v":1.343},{"v":1.344}
    ],
    "ot": [
      {"v":-0.016},{"v":-0.014},{"v":-0.012},{"v":-0.008},{"v":-0.006},{"v":-0.004},{"v":-0.002},
      {"v":0.002},{"v":0.004},{"v":0.006},{"v":0.008},{"v":0.012},{"v":0.014},{"v":0.016},{"v":0.018},{"v":0.020}
    ],
    "ol": [
      {"a":0.01,"t":"0.01000"},
      {"a":0,"t":"0.00000"},
      {"a":-0.01,"t":"-0.01000"}
    ],
    "ar": [
      {"i":270.6,"p":1.3260,"s":"up"},
      {"i":312,"p":1.3026,"s":"up"},
      {"i":312,"p":1.2529,"s":"dn"}
    ],
    "mk": [
      {"i":20,"p":1.2823,"s":"r"},{"i":32,"p":1.2826,"s":"r"},{"i":39,"p":1.2829,"s":"r"},{"i":52,"p":1.2727,"s":"r"},
      {"i":70,"p":1.2778,"s":"r"},{"i":93,"p":1.3045,"s":"r"},{"i":121,"p":1.2999,"s":"r"},{"i":141,"p":1.2951,"s":"r"},
      {"i":162,"p":1.3125,"s":"r"},{"i":172,"p":1.3138,"s":"r"},{"i":191,"p":1.3031,"s":"r"},{"i":206,"p":1.3095,"s":"r"},
      {"i":217,"p":1.3169,"s":"r"},{"i":225,"p":1.3172,"s":"r"},{"i":249,"p":1.3277,"s":"r"},{"i":289,"p":1.3052,"s":"r"},
      {"i":8,"p":1.2635,"s":"g"},{"i":25,"p":1.2692,"s":"g"},{"i":51,"p":1.2576,"s":"g"},{"i":71,"p":1.2699,"s":"g"},
      {"i":95,"p":1.2949,"s":"g"},{"i":115,"p":1.2888,"s":"g"},{"i":128,"p":1.2864,"s":"g"},{"i":146,"p":1.2803,"s":"g"},
      {"i":174,"p":1.2993,"s":"g"},{"i":185,"p":1.2928,"s":"g"},{"i":210,"p":1.2994,"s":"g"},{"i":231,"p":1.3091,"s":"g"},
      {"i":241,"p":1.3187,"s":"g"},{"i":257,"p":1.3024,"s":"g"},{"i":270,"p":1.2943,"s":"g"},{"i":280,"p":1.2941,"s":"g"},
      {"i":288,"p":1.2939,"s":"g"}
    ],
    "lb": [
      {"i":4.7,"p":1.2801,"t":"A","g":"gc"},{"i":8.6,"p":1.2609,"t":"B","g":"gc"},{"i":38.6,"p":1.2846,"t":"C","g":"gc"},
      {"i":114.6,"p":1.2865,"t":"A","g":"gc"},{"i":120.8,"p":1.3017,"t":"B","g":"gc"},{"i":146.3,"p":1.2785,"t":"C","g":"gc"},
      {"i":38.6,"p":1.2900,"t":"IV","g":"gr"},{"i":50.6,"p":1.2561,"t":"V","g":"gr"},{"i":69.7,"p":1.2793,"t":"I","g":"gr"},
      {"i":70.7,"p":1.2676,"t":"II","g":"gr"},{"i":92.8,"p":1.3065,"t":"III","g":"gr"},{"i":146.5,"p":1.2729,"t":"IV","g":"gr"},
      {"i":171.8,"p":1.3161,"t":"V","g":"gr"},
      {"i":173.8,"p":1.2958,"t":"a","g":"gl"},{"i":183,"p":1.3070,"t":"b","g":"gl"},{"i":185.6,"p":1.2884,"t":"c","g":"gl"},
      {"i":51.6,"p":1.2745,"t":"(I)","g":"pu"},{"i":52.5,"p":1.2604,"t":"(II)","g":"pu"},{"i":172.3,"p":1.3214,"t":"(III)","g":"pu"},
      {"i":185.3,"p":1.2822,"t":"(IV)","g":"pu"},{"i":248.8,"p":1.3300,"t":"(V)","g":"pu"},{"i":250,"p":1.3078,"t":"(I)","g":"pu"},
      {"i":254.8,"p":1.3198,"t":"(II)","g":"pu"},{"i":270.4,"p":1.2921,"t":"(III)","g":"pu"},{"i":289.1,"p":1.3065,"t":"(IV)","g":"pu"},
      {"i":312,"p":1.2780,"t":"(V)","g":"pu"},
      {"i":50.6,"p":1.2494,"t":"(c)","g":"pc"},
      {"i":50.6,"p":1.2438,"t":"IV","g":"bc"},{"i":248.8,"p":1.3364,"t":"V","g":"bc"},
      {"i":248.8,"p":1.3422,"t":"C","g":"dr"},
      {"i":312,"p":1.2727,"t":"","g":"rc"}
    ],
    "fb": [
      {"p":1.27834,"t":"78.6%(1.27834)"},
      {"p":1.27158,"t":"100.0%(1.27158)"},
      {"p":1.26298,"t":"127.2%(1.26298)"},
      {"p":1.25951,"t":"138.2%(1.25951)"},
      {"p":1.25205,"t":"161.8%(1.25205)"}
    ],
    "tg": [
      {"p":1.30165,"t":"1.30165","k":"w"},
      {"p":1.2947,"t":"1.29470","k":"w"},
      {"p":1.2856,"t":"1.28560","k":"r"},
      {"p":1.28696,"t":"1.28696","k":"b"}
    ],
    "tx": [
      {"i":1.7,"p":1.3427,"t":"GBP/USD - 4 hour","g":"b"},
      {"i":331.1,"p":1.2811,"t":"5 vs 1+3","g":"b"},
      {"i":2.2,"p":1.3401,"t":"Wave Analysis","g":"s"},
      {"i":271.9,"p":1.3257,"t":"1.32683","g":"s"},
      {"i":271.9,"p":1.2966,"t":"1.29522","g":"s"},
      {"i":1.3,"p":1.2421,"t":"⇔ ⇨⇦ MotiveWave","g":"s"},
      {"i":334.7,"p":1.3429,"t":"⇨⇩⇧","g":"ic"},
      {"i":337.5,"p":1.2418,"t":"⇧⇩","g":"ic"}
    ]
  },
  "vconcat": [
    {
      "width": 1609,
      "height": 653,
      "resolve": {"scale": {"color": "independent", "fill": "independent", "stroke": "independent", "shape": "independent", "size": "independent"}},
      "layer": [
        {
          "data": {"name": "k"},
          "mark": {"type": "rule", "color": "#333333", "strokeWidth": 1},
          "encoding": {
            "x": {"field": "i", "type": "quantitative", "title": null, "scale": {"domain": [0, 345], "nice": false, "zero": false},
              "axis": {"title": null, "values": [10.3,22.3,34.7,48.4,60.2,74.4,98.3,112.5,124.3,138.4,150.2,163,176.8,188.2,202,214.5,234.4,246.4,258.8,272.6,284.6,298.7,310.7,322.1,335.6],
                "labelExpr": "datum.value<16?'Jun-13':datum.value<28?'Jun-15':datum.value<41?'Jun-18':datum.value<54?'Jun-21':datum.value<67?'Jun-23':datum.value<86?'Jun-27':datum.value<105?'Jul-2017':datum.value<118?'Jul-05':datum.value<131?'Jul-07':datum.value<144?'Jul-11':datum.value<156?'Jul-13':datum.value<170?'Jul-16':datum.value<182?'Jul-19':datum.value<195?'Jul-21':datum.value<208?'Jul-25':datum.value<224?'Jul-27':datum.value<240?'Aug-2017':datum.value<252?'Aug-03':datum.value<265?'Aug-06':datum.value<278?'Aug-09':datum.value<291?'Aug-11':datum.value<304?'Aug-15':datum.value<316?'Aug-17':datum.value<329?'Aug-20':'Aug-23'",
                "tickSize": 4, "labelPadding": 1, "labelOverlap": false, "labelFlush": false}},
            "y": {"field": "l", "type": "quantitative", "title": null, "scale": {"domain": [1.23979, 1.34427], "nice": false, "zero": false},
              "axis": {"orient": "right", "title": null, "values": [1.25,1.26,1.27,1.28,1.29,1.30,1.31,1.32,1.33,1.34], "format": ".5f", "tickSize": 6, "labelPadding": 0, "labelOverlap": false, "labelFlush": false}},
            "y2": {"field": "h"}
          }
        },
        {
          "data": {"values": [{"i": 98.3}, {"i": 234.4}]},
          "mark": {"type": "rule", "color": "#666666", "strokeDash": [5, 4], "strokeWidth": 1},
          "encoding": {
            "x": {"field": "i", "type": "quantitative", "title": null}
          }
        },
        {
          "data": {"name": "mt"},
          "mark": {"type": "rule", "color": "#555555", "strokeWidth": 1},
          "encoding": {
            "x": {"datum": 345, "type": "quantitative", "title": null},
            "x2": {"datum": 345.65},
            "y": {"field": "v", "type": "quantitative", "title": null}
          }
        },
        {
          "data": {"name": "ln"},
          "mark": {"type": "line", "strokeDash": [4, 3], "strokeWidth": 1},
          "encoding": {
            "x": {"field": "i", "type": "quantitative", "title": null},
            "y": {"field": "p", "type": "quantitative", "title": null},
            "color": {"field": "g", "type": "nominal", "scale": {"domain": ["ma1", "ma2"], "range": ["#8fb0ff", "#d08ed8"]}, "legend": null},
            "detail": {"field": "g"}
          }
        },
        {
          "data": {"name": "sg"},
          "transform": [{"filter": "datum.g=='od'||datum.g=='ol'||datum.g=='oll'"}],
          "mark": {"type": "rule", "strokeDash": [9, 6], "strokeWidth": 1.3},
          "encoding": {
            "x": {"field": "i", "type": "quantitative", "title": null},
            "x2": {"field": "i2"},
            "y": {"field": "p", "type": "quantitative", "title": null},
            "y2": {"field": "p2"},
            "stroke": {"field": "g", "type": "nominal", "scale": {"domain": ["od", "ol", "oll"], "range": ["#ffb080", "#a0a040", "#cccc90"]}, "legend": null}
          }
        },
        {
          "data": {"name": "k"},
          "mark": {"type": "rule", "color": "#333333", "strokeWidth": 1},
          "encoding": {
            "x": {"field": "i", "type": "quantitative", "title": null},
            "y": {"field": "l", "type": "quantitative", "title": null},
            "y2": {"field": "h"}
          }
        },
        {
          "data": {"name": "k"},
          "mark": {"type": "bar", "width": 3, "orient": "vertical", "strokeWidth": 0.8},
          "encoding": {
            "x": {"field": "i", "type": "quantitative", "title": null},
            "y": {"field": "o", "type": "quantitative", "title": null},
            "y2": {"field": "c"},
            "fill": {"condition": {"test": "datum.c >= datum.o", "value": "#e4e4e4"}, "value": "#000000"},
            "stroke": {"condition": {"test": "datum.c >= datum.o", "value": "#707070"}, "value": "#000000"}
          }
        },
        {
          "data": {"name": "sg"},
          "transform": [{"filter": "datum.g=='os'||datum.g=='rt'||datum.g=='rb'"}],
          "mark": {"type": "rule", "strokeWidth": 3},
          "encoding": {
            "x": {"field": "i", "type": "quantitative", "title": null},
            "x2": {"field": "i2"},
            "y": {"field": "p", "type": "quantitative", "title": null},
            "y2": {"field": "p2"},
            "stroke": {"condition": [{"test": "datum.g=='os'", "value": "#ff9500"}], "value": "#ff1010"}
          }
        },
        {
          "data": {"name": "sg"},
          "transform": [{"filter": "datum.g=='bd'"}],
          "mark": {"type": "rule", "strokeWidth": 3, "strokeDash": [12, 8], "color": "#1020ff"},
          "encoding": {
            "x": {"field": "i", "type": "quantitative", "title": null},
            "x2": {"field": "i2"},
            "y": {"field": "p", "type": "quantitative", "title": null},
            "y2": {"field": "p2"}
          }
        },
        {
          "data": {"name": "sg"},
          "transform": [{"filter": "datum.g=='mg'||datum.g=='mb'"}],
          "mark": {"type": "rule", "strokeWidth": 1},
          "encoding": {
            "x": {"field": "i", "type": "quantitative", "title": null},
            "x2": {"field": "i2"},
            "y": {"field": "p", "type": "quantitative", "title": null},
            "y2": {"field": "p2"},
            "stroke": {"condition": {"test": "datum.g=='mg'", "value": "#888888"}, "value": "#222222"}
          }
        },
        {
          "data": {"name": "ar"},
          "mark": {"type": "point", "filled": true, "size": 55, "opacity": 1},
          "encoding": {
            "x": {"field": "i", "type": "quantitative", "title": null},
            "y": {"field": "p", "type": "quantitative", "title": null},
            "shape": {"condition": {"test": "datum.s=='up'", "value": "triangle-up"}, "value": "triangle-down"},
            "fill": {"condition": {"test": "datum.i < 300", "value": "#777777"}, "value": "#111111"}
          }
        },
        {
          "data": {"name": "mk"},
          "mark": {"type": "point", "filled": true, "size": 110, "opacity": 1, "stroke": "#333333", "strokeWidth": 0.5},
          "encoding": {
            "x": {"field": "i", "type": "quantitative", "title": null},
            "y": {"field": "p", "type": "quantitative", "title": null},
            "shape": {"condition": {"test": "datum.s=='r'", "value": "triangle-down"}, "value": "triangle-up"},
            "fill": {"condition": {"test": "datum.s=='r'", "value": "#8b1010"}, "value": "#127a12"}
          }
        },
        {
          "data": {"name": "lb"},
          "transform": [{"filter": "datum.g=='gc'||datum.g=='bc'||datum.g=='rc'"}],
          "mark": {"type": "point", "shape": "circle", "filled": false, "strokeWidth": 1, "opacity": 1},
          "encoding": {
            "x": {"field": "i", "type": "quantitative", "title": null},
            "y": {"field": "p", "type": "quantitative", "title": null},
            "size": {"condition": {"test": "datum.g=='gc'", "value": 900}, "value": 1250},
            "stroke": {"condition": [{"test": "datum.g=='gc'", "value": "#3aa63a"}, {"test": "datum.g=='bc'", "value": "#4a4aff"}], "value": "#ff6a6a"}
          }
        },
        {
          "data": {"name": "lb"},
          "mark": {"type": "text", "align": "center", "baseline": "middle", "font": "Liberation Sans"},
          "encoding": {
            "x": {"field": "i", "type": "quantitative", "title": null},
            "y": {"field": "p", "type": "quantitative", "title": null},
            "text": {"field": "t"},
            "color": {"field": "g", "type": "nominal", "scale": {"domain": ["gc","gr","gl","pu","pc","bc","dr","rc"], "range": ["#1f8f1f","#8a8a8a","#8a8a8a","#800080","#800080","#0000ff","#8b0000","#ff0000"]}, "legend": null},
            "size": {"field": "g", "type": "ordinal", "scale": {"domain": ["gc","gr","gl","pu","pc","bc","dr","rc"], "range": [21,30,36,27,34,25,30,10]}, "legend": null}
          }
        },
        {
          "data": {"name": "fb"},
          "mark": {"type": "bar", "height": 15, "orient": "horizontal", "cornerRadius": 4, "fill": "white", "stroke": "#666666", "strokeWidth": 1},
          "encoding": {
            "x": {"datum": 323.3, "type": "quantitative", "title": null},
            "x2": {"datum": 340.5},
            "y": {"field": "p", "type": "quantitative", "title": null}
          }
        },
        {
          "data": {"name": "fb"},
          "mark": {"type": "text", "align": "center", "baseline": "middle", "fontSize": 11, "color": "#222222"},
          "encoding": {
            "x": {"datum": 331.9, "type": "quantitative", "title": null},
            "y": {"field": "p", "type": "quantitative", "title": null},
            "text": {"field": "t"}
          }
        },
        {
          "data": {"values": [{"p": 1.3113, "t": "0.03161"}]},
          "mark": {"type": "bar", "height": 14, "orient": "horizontal", "fill": "white", "stroke": "#999999", "strokeWidth": 1},
          "encoding": {
            "x": {"datum": 266.2, "type": "quantitative", "title": null},
            "x2": {"datum": 274.7},
            "y": {"field": "p", "type": "quantitative", "title": null}
          }
        },
        {
          "data": {"values": [{"p": 1.3113, "t": "0.03161"}]},
          "mark": {"type": "text", "align": "center", "baseline": "middle", "fontSize": 11, "color": "#333333"},
          "encoding": {
            "x": {"datum": 270.45, "type": "quantitative", "title": null},
            "y": {"field": "p", "type": "quantitative", "title": null},
            "text": {"field": "t"}
          }
        },
        {
          "data": {"name": "tg"},
          "mark": {"type": "bar", "height": 14, "orient": "horizontal", "cornerRadius": 2, "strokeWidth": 1},
          "encoding": {
            "x": {"datum": 345.4, "type": "quantitative", "title": null},
            "x2": {"datum": 354.7},
            "y": {"field": "p", "type": "quantitative", "title": null},
            "fill": {"condition": [{"test": "datum.k=='b'", "value": "#c8c8fa"}, {"test": "datum.k=='r'", "value": "#f8c4c4"}], "value": "#ffffff"},
            "stroke": {"condition": [{"test": "datum.k=='b'", "value": "#5050c0"}, {"test": "datum.k=='r'", "value": "#d07070"}], "value": "#555555"}
          }
        },
        {
          "data": {"name": "tg"},
          "mark": {"type": "text", "align": "left", "baseline": "middle", "fontSize": 12, "color": "#222222"},
          "encoding": {
            "x": {"datum": 345.9, "type": "quantitative", "title": null},
            "y": {"field": "p", "type": "quantitative", "title": null},
            "text": {"field": "t"}
          }
        },
        {
          "data": {"name": "tx"},
          "transform": [{"filter": "datum.g=='b'"}],
          "mark": {"type": "text", "align": "left", "baseline": "middle", "fontSize": 13, "fontWeight": "bold", "color": "#111111"},
          "encoding": {
            "x": {"field": "i", "type": "quantitative", "title": null},
            "y": {"field": "p", "type": "quantitative", "title": null},
            "text": {"field": "t"}
          }
        },
        {
          "data": {"name": "tx"},
          "transform": [{"filter": "datum.g=='s'"}],
          "mark": {"type": "text", "align": "left", "baseline": "middle", "fontSize": 11, "color": "#555555"},
          "encoding": {
            "x": {"field": "i", "type": "quantitative", "title": null},
            "y": {"field": "p", "type": "quantitative", "title": null},
            "text": {"field": "t"}
          }
        },
        {
          "data": {"name": "tx"},
          "transform": [{"filter": "datum.g=='ic'"}],
          "mark": {"type": "text", "align": "left", "baseline": "middle", "fontSize": 14, "color": "#aaaaaa", "font": "DejaVu Sans"},
          "encoding": {
            "x": {"field": "i", "type": "quantitative", "title": null},
            "y": {"field": "p", "type": "quantitative", "title": null},
            "text": {"field": "t"}
          }
        }
      ]
    },
    {
      "width": 1609,
      "height": 74,
      "layer": [
        {
          "data": {"name": "k"},
          "mark": {"type": "bar", "width": 3.4, "orient": "vertical"},
          "encoding": {
            "x": {"field": "i", "type": "quantitative", "title": null, "scale": {"domain": [0, 345], "nice": false, "zero": false}, "axis": null},
            "y": {"field": "a", "type": "quantitative", "title": null, "scale": {"domain": [-0.01665, 0.02035], "nice": false, "zero": false},
              "axis": {"orient": "right", "title": null, "values": [-0.01, 0, 0.01], "labels": false, "tickSize": 6}},
            "y2": {"datum": 0},
            "fill": {"condition": {"test": "datum.u == 1", "value": "#3535ff"}, "value": "#a32424"}
          }
        },
        {
          "data": {"name": "ot"},
          "mark": {"type": "rule", "color": "#555555", "strokeWidth": 1},
          "encoding": {
            "x": {"datum": 345, "type": "quantitative", "title": null},
            "x2": {"datum": 345.65},
            "y": {"field": "v", "type": "quantitative", "title": null}
          }
        },
        {
          "data": {"values": [{"i": 98.3}, {"i": 234.4}]},
          "mark": {"type": "rule", "color": "#666666", "strokeDash": [5, 4], "strokeWidth": 1},
          "encoding": {
            "x": {"field": "i", "type": "quantitative", "title": null}
          }
        },
        {
          "data": {"values": [{"v": 0}]},
          "mark": {"type": "rule", "color": "#777777", "strokeDash": [3, 3], "strokeWidth": 1},
          "encoding": {
            "y": {"field": "v", "type": "quantitative", "title": null}
          }
        },
        {
          "data": {"values": [{"i": 1.3, "a": 0.0143, "t": "Awesome Osc(34,5)"}]},
          "mark": {"type": "text", "align": "left", "baseline": "middle", "fontSize": 12, "fontWeight": "bold", "color": "#111111"},
          "encoding": {
            "x": {"field": "i", "type": "quantitative", "title": null},
            "y": {"field": "a", "type": "quantitative", "title": null},
            "text": {"field": "t"}
          }
        },
        {
          "data": {"name": "ol"},
          "mark": {"type": "text", "align": "left", "baseline": "middle", "fontSize": 12, "color": "#222222"},
          "encoding": {
            "x": {"datum": 346.3, "type": "quantitative", "title": null},
            "y": {"field": "a", "type": "quantitative", "title": null},
            "text": {"field": "t"}
          }
        },
        {
          "data": {"values": [{"a": -0.00827, "t": "-0.00827"}]},
          "mark": {"type": "bar", "height": 14, "orient": "horizontal", "cornerRadius": 2, "fill": "white", "stroke": "#555555", "strokeWidth": 1},
          "encoding": {
            "x": {"datum": 344.6, "type": "quantitative", "title": null},
            "x2": {"datum": 355.2},
            "y": {"field": "a", "type": "quantitative", "title": null}
          }
        },
        {
          "data": {"values": [{"a": -0.00827, "t": "-0.00827"}]},
          "mark": {"type": "text", "align": "left", "baseline": "middle", "fontSize": 12, "color": "#222222"},
          "encoding": {
            "x": {"datum": 345.0, "type": "quantitative", "title": null},
            "y": {"field": "a", "type": "quantitative", "title": null},
            "text": {"field": "t"}
          }
        }
      ]
    }
  ]
}
